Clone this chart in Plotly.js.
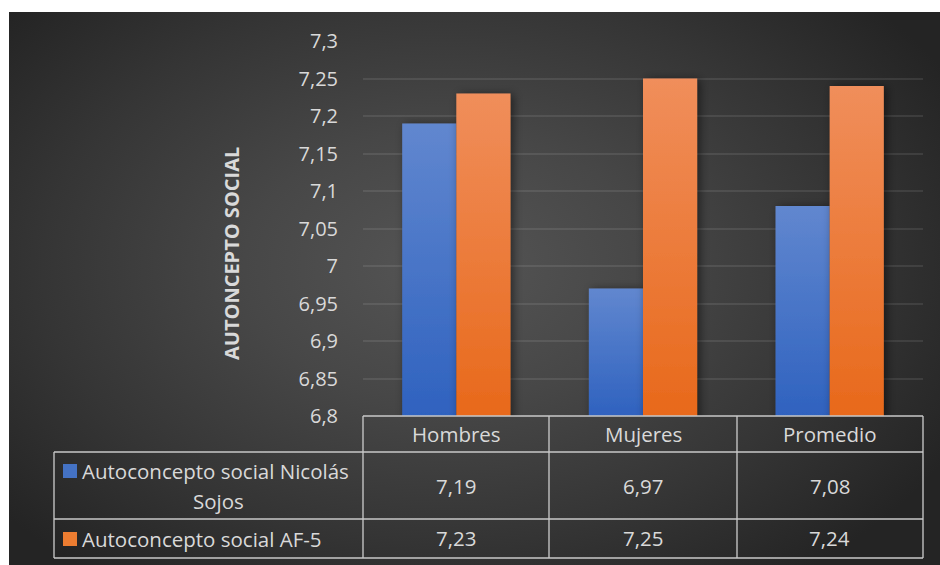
<!DOCTYPE html>
<html>
<head>
<meta charset="utf-8">
<script src="https://cdn.plot.ly/plotly-3.0.1.min.js"></script>
<style>
  html, body { margin: 0; padding: 0; background: #ffffff; }
  #wrap { position: relative; width: 940px; height: 565px; overflow: hidden; }
  #panel {
    position: absolute; left: 9px; top: 12px; width: 931px; height: 553px;
    background: radial-gradient(ellipse 62% 70% at 47% 46%, #555555 0%, #474747 35%, #353535 70%, #242424 100%);
  }
  #chart { position: absolute; left: 0; top: 0; width: 940px; height: 565px; }
</style>
</head>
<body>
<div id="wrap">
  <div id="panel"></div>
  <div id="chart"></div>
</div>
<script>
// Categories and series values
const categories = ['Hombres', 'Mujeres', 'Promedio'];
const seriesNames = ['Autoconcepto social Nicolás Sojos', 'Autoconcepto social AF-5'];
const nicolasSojos = [7.19, 6.97, 7.08];
const af5 = [7.23, 7.25, 7.24];
const yTickVals = [6.8, 6.85, 6.9, 6.95, 7, 7.05, 7.1, 7.15, 7.2, 7.25, 7.3];
const yTickText = ['6,8', '6,85', '6,9', '6,95', '7', '7,05', '7,1', '7,15', '7,2', '7,25', '7,3'];
const yTitle = 'AUTONCEPTO SOCIAL';

const seriesValues = [nicolasSojos, af5];
const seriesColors = ['#4472c4', '#ed7d31'];
const gradStops = [['#6187cf', '#2f62bf'], ['#f08e5b', '#e8691b']];

const FONT = '"Open Sans", "Noto Sans", sans-serif';
const TXT = '#d9d9d9';
const LINE = 'rgba(200,200,200,0.75)';

// plot area in pixels: x 363..923, y 41..416
const L = 363, R = 923, T = 41, B = 416;
const px = x => (x - L) / (R - L);
const py = y => (B - y) / (B - T);

const fmt = v => v.toFixed(2).replace('.', ',');

const traces = seriesValues.map((vals, i) => ({
  type: 'bar',
  name: seriesNames[i],
  x: categories,
  y: vals,
  marker: { color: seriesColors[i], line: { width: 0 } },
  hoverinfo: 'x+y'
}));

// data-table grid lines
const rows = [416, 452, 519, 558];
const shapes = [];
const hline = (x0, x1, y) => shapes.push({ type: 'line', xref: 'paper', yref: 'paper',
  x0: px(x0), x1: px(x1), y0: py(y), y1: py(y), line: { color: LINE, width: 1.8 } });
const vline = (x, y0, y1) => shapes.push({ type: 'line', xref: 'paper', yref: 'paper',
  x0: px(x), x1: px(x), y0: py(y0), y1: py(y1), line: { color: LINE, width: 1.8 } });

hline(L, R, rows[0]);
hline(54, R, rows[1]);
hline(54, R, rows[2]);
hline(54, R, rows[3]);
vline(54, rows[1], rows[3]);
[L, 549, 737, R].forEach(x => vline(x, rows[0], rows[3]));

// legend keys
[[464, 478], [532, 546]].forEach((yy, i) => shapes.push({
  type: 'rect', xref: 'paper', yref: 'paper',
  x0: px(63), x1: px(77), y0: py(yy[1]), y1: py(yy[0]),
  fillcolor: seriesColors[i], line: { width: 0 }
}));

const annotations = [];
const tfont = { family: FONT, size: 20.5, color: TXT };

// column headers
categories.forEach(c => annotations.push({
  x: c, xref: 'x', y: py(434), yref: 'paper', text: c, showarrow: false,
  font: tfont, xanchor: 'center', yanchor: 'middle'
}));

// values
const rowCenters = [486, 538];
seriesValues.forEach((vals, i) => vals.forEach((v, j) => annotations.push({
  x: categories[j], xref: 'x', y: py(rowCenters[i]), yref: 'paper', text: fmt(v),
  showarrow: false, font: tfont, xanchor: 'center', yanchor: 'middle'
})));

// row labels (first one wraps onto two lines)
const words0 = seriesNames[0].split(' ');
annotations.push({ x: px(80), xref: 'paper', y: py(471), yref: 'paper',
  text: words0.slice(0, -1).join(' '), showarrow: false, font: tfont,
  xanchor: 'left', yanchor: 'middle' });
annotations.push({ x: px(218), xref: 'paper', y: py(501), yref: 'paper',
  text: words0[words0.length - 1], showarrow: false, font: tfont,
  xanchor: 'center', yanchor: 'middle' });
annotations.push({ x: px(80), xref: 'paper', y: py(539), yref: 'paper',
  text: seriesNames[1], showarrow: false, font: tfont,
  xanchor: 'left', yanchor: 'middle' });

// vertical axis title
annotations.push({ x: px(231), xref: 'paper', y: py(254), yref: 'paper',
  text: '<b>' + yTitle + '</b>', textangle: -90, showarrow: false,
  font: { family: FONT, size: 20, color: TXT }, xanchor: 'center', yanchor: 'middle' });

const layout = {
  width: 940, height: 565,
  margin: { l: L, r: 940 - R, t: T, b: 565 - B, pad: 0 },
  paper_bgcolor: 'rgba(0,0,0,0)',
  plot_bgcolor: 'rgba(0,0,0,0)',
  separators: ',.',
  showlegend: false,
  barmode: 'group',
  bargap: 0.42,
  bargroupgap: 0,
  xaxis: { type: 'category', showticklabels: false, showgrid: false, zeroline: false,
    showline: false, ticks: '', fixedrange: true },
  yaxis: { range: [6.8, 7.3], tickmode: 'array', tickvals: yTickVals, ticktext: yTickText,
    showgrid: true, gridcolor: 'rgba(255,255,255,0.09)', gridwidth: 2,
    zeroline: false, showline: false, ticks: '', ticklabelstandoff: 24,
    tickfont: { family: FONT, size: 20, color: TXT }, fixedrange: true },
  shapes: shapes,
  annotations: annotations
};

const gd = document.getElementById('chart');
Plotly.newPlot(gd, traces, layout, { displayModeBar: false, staticPlot: true }).then(() => {
  // vertical colour gradient on each bar (from its top down to the axis floor) plus a soft shadow
  const NS = 'http://www.w3.org/2000/svg';
  const svg = gd.querySelector('svg.main-svg');
  let defs = svg.querySelector('defs');
  if (!defs) { defs = document.createElementNS(NS, 'defs'); svg.insertBefore(defs, svg.firstChild); }
  const ya = gd._fullLayout.yaxis;
  const xa = gd._fullLayout.xaxis;
  const floorY = ya._length;

  const f = document.createElementNS(NS, 'filter');
  f.setAttribute('id', 'barShadow');
  f.setAttribute('filterUnits', 'userSpaceOnUse');
  f.setAttribute('x', '-60'); f.setAttribute('y', '-60');
  f.setAttribute('width', String(xa._length + 120)); f.setAttribute('height', String(floorY + 120));
  const ds = document.createElementNS(NS, 'feDropShadow');
  ds.setAttribute('dx', '3'); ds.setAttribute('dy', '1');
  ds.setAttribute('stdDeviation', '5');
  ds.setAttribute('flood-color', '#000'); ds.setAttribute('flood-opacity', '0.5');
  f.appendChild(ds);
  defs.appendChild(f);

  let n = 0;
  gd.querySelectorAll('.barlayer .trace').forEach((t, i) => {
    const stops = gradStops[i % gradStops.length];
    t.querySelectorAll('path').forEach(p => {
      const top = p.getBBox().y;
      const id = 'barGrad' + (n++);
      const g = document.createElementNS(NS, 'linearGradient');
      g.setAttribute('id', id);
      g.setAttribute('gradientUnits', 'userSpaceOnUse');
      g.setAttribute('x1', '0'); g.setAttribute('x2', '0');
      g.setAttribute('y1', String(top)); g.setAttribute('y2', String(floorY));
      stops.forEach((c, k) => {
        const s = document.createElementNS(NS, 'stop');
        s.setAttribute('offset', k === 0 ? '0' : '1');
        s.setAttribute('stop-color', c);
        g.appendChild(s);
      });
      defs.appendChild(g);
      p.style.fill = 'url(#' + id + ')';
      p.setAttribute('filter', 'url(#barShadow)');
    });
  });
});
</script>
</body>
</html>
